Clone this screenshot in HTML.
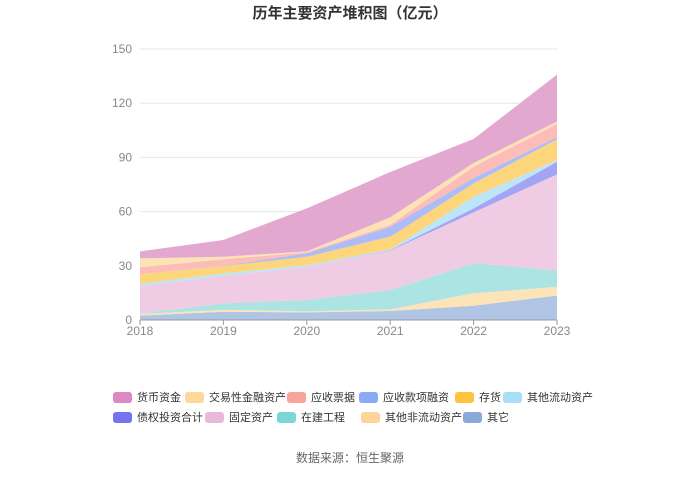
<!DOCTYPE html>
<html><head><meta charset="utf-8"><style>
body{margin:0;background:#fff;}
svg text{font-family:"Liberation Sans","Noto Sans CJK SC",sans-serif;}
</style></head><body>
<svg id="c" width="700" height="474">
<text x="350" y="18" text-anchor="middle" font-size="15" font-weight="bold" fill="#333">历年主要资产堆积图（亿元）</text>
<g id="grid"></g><g id="areas"></g><g id="axes"></g><g id="legend"></g>
<text x="350" y="462" text-anchor="middle" font-size="12" fill="#666">数据来源：恒生聚源</text>
</svg>
<script>
const years=['2018','2019','2020','2021','2022','2023'];
const yTicks=[0,30,60,90,120,150];
const seriesNames=['其它','其他非流动资产','在建工程','固定资产','债权投资合计','其他流动资产','存货','应收款项融资','应收票据','交易性金融资产','货币资金'];
const qita=[2.4,4.6,4.2,5.0,7.9,13.5];
const qitaFeiliudong=[0.9,1.1,0.6,0.9,6.9,4.9];
const zaijian=[0.2,3.5,6.3,10.7,16.6,9.1];
const guding=[15.3,15.3,18.4,21.8,28.2,53.1];
const zhaiquan=[0,0,0,0.3,2.2,7.0];
const qitaLiudong=[1.2,1.3,0.9,0.4,6.4,0.9];
const cunhuo=[5.3,4.1,4.6,7.0,7.4,11.5];
const yingshouRongzi=[0,0.2,1.9,5.5,3.0,1.3];
const yingshouPiaoju=[3.9,3.5,0.6,1.0,6.2,7.2];
const jiaoyixing=[4.9,1.4,0.5,4.2,2.1,1.3];
const huobi=[3.9,9.3,23.8,25.1,13.3,26.0];
const seriesData=[qita,qitaFeiliudong,zaijian,guding,zhaiquan,qitaLiudong,cunhuo,yingshouRongzi,yingshouPiaoju,jiaoyixing,huobi];
const fills=['#b0c4e4','#fde3b8','#ace3e3','#efcce4','#a4a4f4','#bce6f8','#fdd57a','#adbcf8','#fcbcb7','#fde2b5','#e3a8d0'];
const iconColors=['#8aa8d8','#fdd59a','#7dd6d6','#e9b8dc','#7474ee','#a9def7','#fcc43c','#8aaaf5','#f8a49c','#fdd89a','#dd88c4'];
const slugs=['other','other-noncurrent-assets','construction-in-progress','fixed-assets','debt-investment','other-current-assets','inventory','receivables-financing','notes-receivable','trading-financial-assets','cash'];
const NS='http://www.w3.org/2000/svg';
const x0=140,x1=557,y0=320,yTop=49;
const xs=i=>x0+(x1-x0)*i/(years.length-1);
const ys=v=>y0-(y0-yTop)*v/150;
function mk(t,a,p){const e=document.createElementNS(NS,t);for(const k in a)e.setAttribute(k,a[k]);p.appendChild(e);return e;}
const grid=document.getElementById('grid'),axes=document.getElementById('axes'),areas=document.getElementById('areas'),legend=document.getElementById('legend');
yTicks.forEach(t=>{
 if(t>0){const l=mk('line',{x1:x0,x2:x1,y1:ys(t),y2:ys(t),stroke:'#e6e6ee'},grid);
 
 }
 const tx=mk('text',{x:x0-8,y:ys(t)+4,'text-anchor':'end','font-size':12,fill:'#888'},axes);tx.textContent=t;
 
 
});
const cum=years.map(()=>0);
seriesData.forEach((s,k)=>{
 const lower=cum.slice();s.forEach((v,i)=>cum[i]+=v);
 let d='';years.forEach((_,i)=>d+=(i?'L':'M')+xs(i)+','+ys(cum[i]));
 for(let i=years.length-1;i>=0;i--)d+='L'+xs(i)+','+ys(lower[i]);
 const p=mk('path',{d:d+'Z',fill:fills[k]},areas);
 
 
});
const ax=mk('line',{x1:x0,x2:x1,y1:y0,y2:y0,stroke:'#999'},axes);


years.forEach((y,i)=>{
 const tk=mk('line',{x1:xs(i),x2:xs(i),y1:y0,y2:y0+5,stroke:'#999'},axes);
 
 
 const t=mk('text',{x:xs(i),y:y0+15,'text-anchor':'middle','font-size':12,fill:'#888'},axes);t.textContent=y;
 
 
});
const legendOrder=[[10,113,397],[9,185,397],[8,287,397],[7,359,397],[6,455,397],[5,503,397],[4,113,417],[3,205,417],[2,277,417],[1,361,417],[0,463,417]];
legendOrder.forEach(([k,lx,ly])=>{
 const g=mk('g',{},legend);
 
 
 mk('rect',{x:lx,y:ly-5,width:19,height:11,rx:3,fill:iconColors[k]},g);
 const t=mk('text',{x:lx+24,y:ly+4,'font-size':11,fill:'#333'},g);t.textContent=seriesNames[k];
});
</script>
</body></html>
